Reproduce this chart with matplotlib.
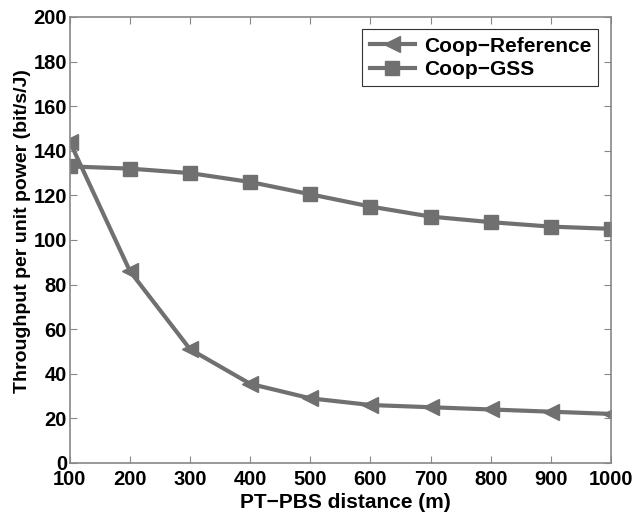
import matplotlib
matplotlib.use("Agg")
import matplotlib.pyplot as plt

distance = [100, 200, 300, 400, 500, 600, 700, 800, 900, 1000]
coop_reference = [144, 86, 51, 35.5, 29, 26, 25, 24, 23, 22]
coop_gss = [133, 132, 130, 126, 120.5, 115, 110.5, 108, 106, 105]

LINE_COLOR = "#707070"

plt.rcParams["font.family"] = ["Liberation Sans", "DejaVu Sans"]
plt.rcParams["font.weight"] = "bold"

fig = plt.figure(figsize=(6.35, 5.15), dpi=100)
ax = fig.add_axes([0.110, 0.101, 0.852, 0.866])

ax.plot(distance, coop_reference, color=LINE_COLOR, lw=3, marker="<",
        markersize=12, label="Coop\u2212Reference")
ax.plot(distance, coop_gss, color=LINE_COLOR, lw=3, marker="s",
        markersize=9.5, label="Coop\u2212GSS")

ax.set_xlim(100, 1000)
ax.set_ylim(0, 200)
ax.set_xticks(distance)
ax.set_yticks(range(0, 201, 20))
ax.tick_params(direction="in", top=True, right=True, length=5,
               color="#888888", labelsize=14.5)
ax.tick_params(axis="x", pad=5)
ax.tick_params(axis="y", pad=2)
for lab in ax.get_xticklabels() + ax.get_yticklabels():
    lab.set_fontweight("bold")
for sp in ax.spines.values():
    sp.set_color("#888888")
    sp.set_linewidth(1.2)

ax.set_xlabel("PT\u2212PBS distance (m)", fontsize=15, fontweight="bold")
ax.set_ylabel("Throughput per unit power (bit/s/J)", fontsize=14, fontweight="bold")
ax.xaxis.set_label_coords(0.51, -0.067)
ax.yaxis.set_label_coords(-0.072, 0.52)

leg = ax.legend(loc="upper right", fontsize=15, fancybox=False, framealpha=1,
                edgecolor="#333333", borderaxespad=0.6, handlelength=2.2,
                labelspacing=0.2, borderpad=0.35, handletextpad=0.4)
leg.get_frame().set_linewidth(0.8)

fig.savefig("out.png", dpi=100)
